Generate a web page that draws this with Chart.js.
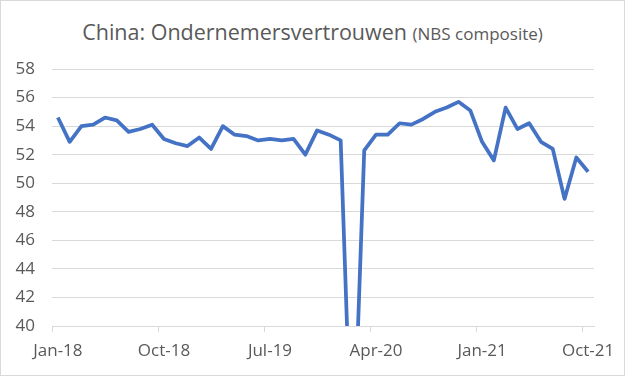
<!DOCTYPE html>
<html>
<head>
<meta charset="utf-8">
<script src="https://cdn.jsdelivr.net/npm/chart.js@4.4.1/dist/chart.umd.min.js"></script>
<style>
  html, body { margin: 0; padding: 0; background: #fff; }
  #wrap { position: relative; width: 623px; height: 374px; border: 1px solid #d9d9d9; overflow: hidden; }
  #title { position: absolute; left: 0; right: 0; top: 16px; text-align: center; white-space: nowrap;
           font-family: "Open Sans", sans-serif; color: #595959; font-size: 21.5px; }
  #title span { font-size: 17px; }
  canvas { position: absolute; left: 0; top: 0; }
</style>
</head>
<body>
<div id="wrap">
  <div id="title">China: Ondernemersvertrouwen <span>(NBS composite)</span></div>
  <canvas id="chart" width="623" height="374"></canvas>
</div>
<script>
// Months, Jan-18 .. Oct-21
const months = [
  'Jan-18','Feb-18','Mar-18','Apr-18','May-18','Jun-18','Jul-18','Aug-18','Sep-18','Oct-18','Nov-18','Dec-18',
  'Jan-19','Feb-19','Mar-19','Apr-19','May-19','Jun-19','Jul-19','Aug-19','Sep-19','Oct-19','Nov-19','Dec-19',
  'Jan-20','Feb-20','Mar-20','Apr-20','May-20','Jun-20','Jul-20','Aug-20','Sep-20','Oct-20','Nov-20','Dec-20',
  'Jan-21','Feb-21','Mar-21','Apr-21','May-21','Jun-21','Jul-21','Aug-21','Sep-21','Oct-21'
];

// NBS composite PMI (Feb-20 falls far below the axis)
const pmi = [
  54.6, 52.9, 54.0, 54.1, 54.6, 54.4, 53.6, 53.8, 54.1, 53.1, 52.8, 52.6,
  53.2, 52.4, 54.0, 53.4, 53.3, 53.0, 53.1, 53.0, 53.1, 52.0, 53.7, 53.4,
  53.0, 28.9, 52.3, 53.4, 53.4, 54.2, 54.1, 54.5, 55.0, 55.3, 55.7, 55.1,
  52.9, 51.6, 55.3, 53.8, 54.2, 52.9, 52.4, 48.9, 51.8, 50.8
];

const yMin = 40, yMax = 58, yStep = 2;
const labelEvery = 9;

const grey = '#595959';
const gridGrey = '#d9d9d9';
const tickFont = { family: '"Open Sans", sans-serif', size: 17 };

new Chart(document.getElementById('chart'), {
  type: 'line',
  data: {
    labels: months,
    datasets: [{
      data: pmi,
      borderColor: '#4472c4',
      borderWidth: 3.75,
      pointRadius: 0,
      tension: 0,
      borderJoinStyle: 'round',
      clip: { left: 5, right: 5, top: 5, bottom: 0 }
    }]
  },
  options: {
    responsive: false,
    animation: false,
    events: [],
    layout: { padding: { top: 68, right: 30, left: 0, bottom: 0 } },
    plugins: { legend: { display: false }, tooltip: { enabled: false } },
    scales: {
      x: {
        offset: true,
        grid: {
          offset: true,
          drawOnChartArea: false,
          drawTicks: true,
          tickLength: 6,
          color: ctx => (ctx.index % labelEvery === 0 ? gridGrey : 'rgba(0,0,0,0)')
        },
        border: { display: true, color: gridGrey, width: 1 },
        ticks: {
          autoSkip: false,
          maxRotation: 0,
          color: grey,
          font: tickFont,
          padding: 9,
          callback: function (val, i) { return i % labelEvery === 0 ? this.getLabelForValue(val) : ''; }
        },
        afterFit: s => { s.height = 49; }
      },
      y: {
        min: yMin,
        max: yMax,
        ticks: { stepSize: yStep, color: grey, font: tickFont, padding: 17 },
        grid: { color: gridGrey, drawTicks: false },
        border: { display: false },
        afterFit: s => { s.width = 51; }
      }
    }
  }
});
</script>
</body>
</html>
